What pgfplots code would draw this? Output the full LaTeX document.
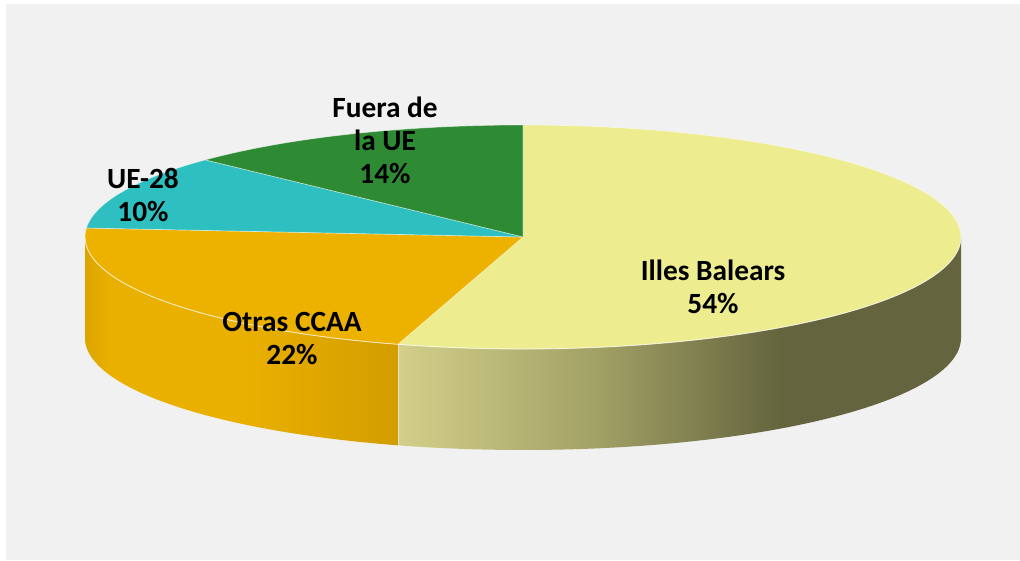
\documentclass[border=0pt]{standalone}
\usepackage{pgfplots}
\pgfplotsset{compat=1.18}
\usepackage{pgfplotstable}
\usepackage{fontspec}
\setmainfont{Carlito}

\definecolor{bgGray}{HTML}{F1F1F1}
\definecolor{ibTop}{HTML}{EDEC8E}
\definecolor{otTop}{HTML}{EDB200}
\definecolor{ueTop}{HTML}{2EBFC0}
\definecolor{fuTop}{HTML}{2E8B34}
\definecolor{ibL}{HTML}{D3CF8A}
\definecolor{ibM}{HTML}{A4A367}
\definecolor{ibD}{HTML}{64643E}
\definecolor{otE}{HTML}{DCA400}
\definecolor{otA}{HTML}{EAB000}
\definecolor{otR}{HTML}{D39D00}

\pgfdeclarehorizontalshading{ibside}{100bp}{color(0bp)=(ibL); color(25bp)=(ibL); color(42bp)=(ibM); color(59bp)=(ibD); color(100bp)=(ibD)}
\pgfdeclarehorizontalshading{otside}{100bp}{color(0bp)=(otE); color(25bp)=(otE); color(29bp)=(otA); color(50bp)=(otA); color(75bp)=(otR); color(100bp)=(otR)}

\pgfplotstableread{
name value
IllesBalears 54
OtrasCCAA 22
UE28 10
FueraUE 14
}\piedata

% slice boundary angles from the data (clockwise from 12 o'clock)
\pgfplotstablegetelem{0}{value}\of\piedata \pgfmathsetmacro\aA{90-3.6*\pgfplotsretval}
\pgfplotstablegetelem{1}{value}\of\piedata \pgfmathsetmacro\aB{\aA-3.6*\pgfplotsretval}
\pgfplotstablegetelem{2}{value}\of\piedata \pgfmathsetmacro\aC{\aB-3.6*\pgfplotsretval}
\pgfplotstablegetelem{3}{value}\of\piedata \pgfmathsetmacro\aD{\aC-3.6*\pgfplotsretval}
% mild perspective warp of the boundary angles
\newcommand\warp[2]{\pgfmathsetmacro#1{#2+1.882*sin(#2+270)-4.536*sin(2*(#2+270))-2.466*(1-cos(#2+270))}}
\warp\pA\aA
\warp\pB\aB
\warp\pC\aC
\pgfmathsetmacro\pD{\aD}

\def\cx{523}
\def\cy{323}
\def\rx{438}
\def\ry{112}
\def\dep{101}
\pgfmathsetmacro\xA{\cx+\rx*cos(\pA)}
\pgfmathsetmacro\yA{\cy+\ry*sin(\pA)}
\pgfmathsetmacro\yAb{\cy-\dep+\ry*sin(\pA)}

\begin{document}
\begin{tikzpicture}
\begin{axis}[
  width=765pt, height=420pt, scale only axis,
  xmin=0, xmax=1020, ymin=0, ymax=560,
  hide axis, clip=true,
  variable=\t, samples=90,
  every axis plot/.append style={line join=round},
]
% background
\addplot[fill=white, draw=none] coordinates {(0,0) (1020,0) (1020,560) (0,560)} -- cycle;
\addplot[fill=bgGray, draw=none] coordinates {(6,0) (1020,0) (1020,556) (6,556)} -- cycle;

% side walls
\addplot[shading=ibside, draw=none, domain=\pA:0]
  ({\cx+\rx*cos(t)},{\cy-\dep+\ry*sin(t)}) -- (axis cs:\cx+\rx,\cy) -- (axis cs:\xA,\cy) -- cycle;
\addplot[shading=otside, draw=none, domain=-180:\pA]
  ({\cx+\rx*cos(t)},{\cy-\dep+\ry*sin(t)}) -- (axis cs:\xA,\cy) -- (axis cs:\cx-\rx,\cy) -- cycle;
\addplot[white, opacity=0.45, line width=0.5pt] coordinates {(\xA,\yA) (\xA,\yAb)};

% top faces
\addplot[fill=ibTop, draw=white, draw opacity=0.5, line width=0.5pt, domain=\pA:90]
  ({\cx+\rx*cos(t)},{\cy+\ry*sin(t)}) -- (axis cs:\cx,\cy) -- cycle;
\addplot[fill=otTop, draw=white, draw opacity=0.5, line width=0.5pt, domain=\pB:\pA, samples=40]
  ({\cx+\rx*cos(t)},{\cy+\ry*sin(t)}) -- (axis cs:\cx,\cy) -- cycle;
\addplot[fill=ueTop, draw=white, draw opacity=0.5, line width=0.5pt, domain=\pC:\pB, samples=30]
  ({\cx+\rx*cos(t)},{\cy+\ry*sin(t)}) -- (axis cs:\cx,\cy) -- cycle;
\addplot[fill=fuTop, draw=white, draw opacity=0.5, line width=0.5pt, domain=\pD:\pC, samples=30]
  ({\cx+\rx*cos(t)},{\cy+\ry*sin(t)}) -- (axis cs:\cx,\cy) -- cycle;
% front rim highlight
\addplot[white, opacity=0.6, line width=0.6pt, domain=-180:0]
  ({\cx+\rx*cos(t)},{\cy+\ry*sin(t)});

% labels
\tikzset{lbl/.style={font=\bfseries\fontsize{22}{24.75}\selectfont, align=center, text=black, inner sep=0pt}}
\node[lbl] at (axis cs:713,273) {Illes Balears\\54\%};
\node[lbl] at (axis cs:292,221) {Otras CCAA\\22\%};
\node[lbl] at (axis cs:143,365) {UE-28\\10\%};
\node[lbl] at (axis cs:385,420) {Fuera de\\la UE\\14\%};
\end{axis}
\end{tikzpicture}
\end{document}
